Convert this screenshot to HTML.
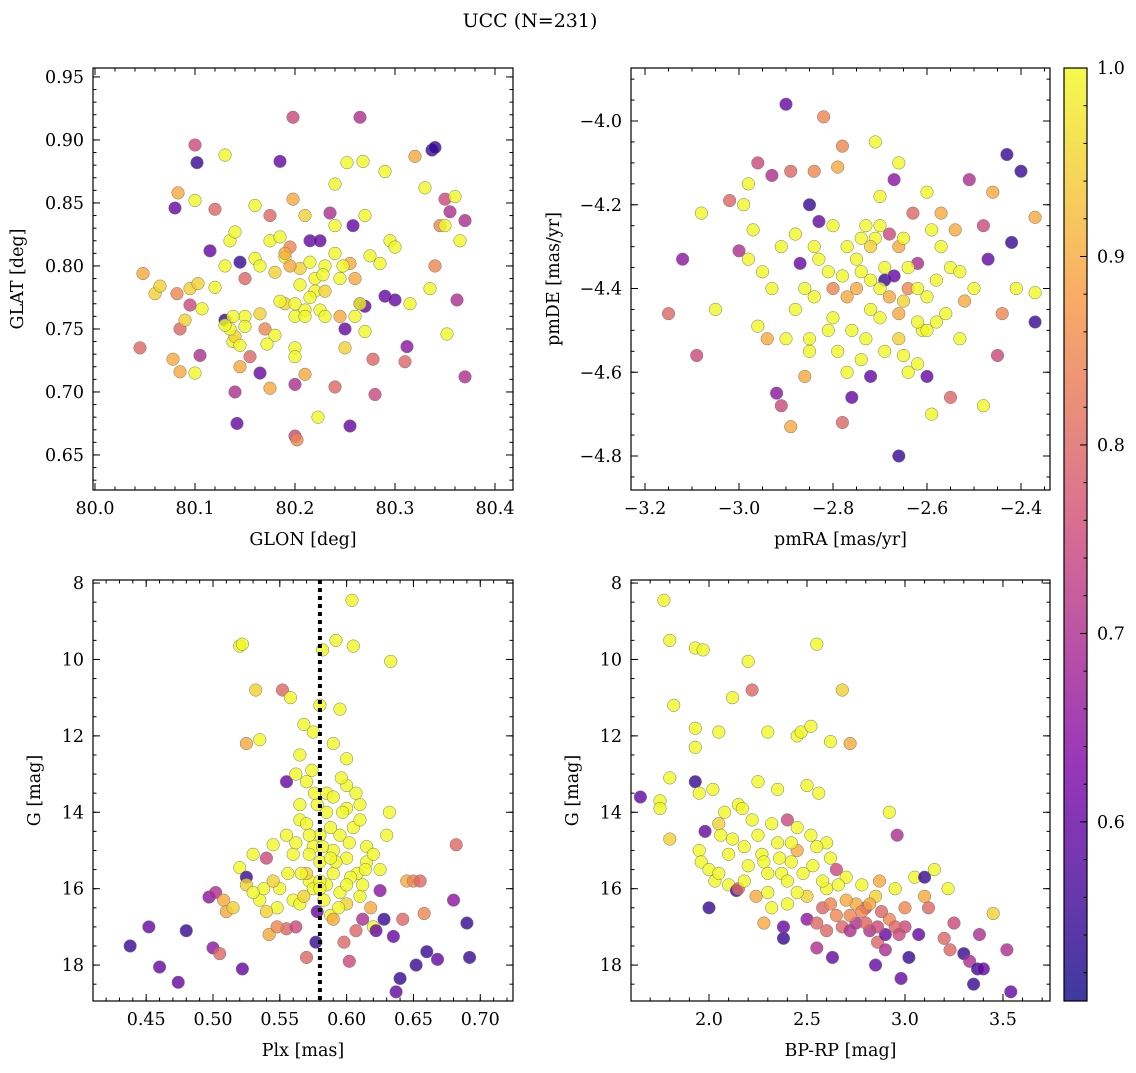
<!DOCTYPE html>
<html><head><meta charset="utf-8"><style>
body{margin:0;background:#fff;}
svg{font-family:"DejaVu Serif","Liberation Serif",serif;}
</style></head><body>
<svg id="fig" width="1136" height="1068" viewBox="0 0 1136 1068" xmlns="http://www.w3.org/2000/svg">
<text x="530" y="27" font-size="19" text-anchor="middle">UCC (N=231)</text>
</svg>
<script>
// Panel 1: GLON, GLAT, probability
const p1 = [[80.045,0.735,0.8],[80.048,0.794,0.9],[80.06,0.778,0.95],[80.065,0.784,0.95],[80.078,0.726,0.9],[80.08,0.846,0.6],[80.082,0.778,0.85],[80.083,0.858,0.9],[80.085,0.75,0.8],[80.085,0.716,0.9],[80.09,0.757,0.95],[80.095,0.782,0.95],[80.095,0.769,0.75],[80.1,0.896,0.75],[80.1,0.852,1.0],[80.102,0.882,0.55],[80.1,0.715,1.0],[80.103,0.786,0.95],[80.105,0.729,0.7],[80.115,0.812,0.6],[80.12,0.845,0.8],[80.13,0.888,1.0],[80.13,0.757,0.55],[80.135,0.82,1.0],[80.14,0.827,1.0],[80.138,0.74,1.0],[80.14,0.7,0.7],[80.142,0.675,0.6],[80.145,0.72,0.9],[80.145,0.803,0.55],[80.15,0.79,0.8],[80.15,0.76,1.0],[80.155,0.728,0.8],[80.16,0.848,1.0],[80.165,0.715,0.6],[80.165,0.762,0.95],[80.17,0.75,0.85],[80.175,0.84,0.8],[80.175,0.703,0.9],[80.18,0.795,0.95],[80.185,0.883,0.6],[80.19,0.807,1.0],[80.19,0.77,0.95],[80.195,0.815,0.85],[80.198,0.918,0.75],[80.198,0.853,0.9],[80.2,0.665,0.75],[80.202,0.662,0.85],[80.2,0.706,0.7],[80.205,0.798,0.95],[80.21,0.765,1.0],[80.21,0.714,0.9],[80.215,0.82,0.6],[80.22,0.78,1.0],[80.223,0.68,1.0],[80.225,0.82,0.6],[80.23,0.78,0.95],[80.235,0.842,0.7],[80.24,0.865,1.0],[80.24,0.704,0.8],[80.245,0.76,0.9],[80.25,0.75,0.6],[80.252,0.882,1.0],[80.255,0.673,0.6],[80.258,0.832,0.6],[80.26,0.79,0.9],[80.265,0.918,0.7],[80.265,0.77,0.6],[80.268,0.883,1.0],[80.27,0.748,1.0],[80.275,0.808,1.0],[80.278,0.726,0.8],[80.28,0.698,0.75],[80.285,0.802,1.0],[80.29,0.776,0.6],[80.29,0.875,1.0],[80.295,0.82,1.0],[80.3,0.773,0.6],[80.31,0.724,0.8],[80.312,0.736,0.65],[80.315,0.77,1.0],[80.32,0.887,0.9],[80.33,0.862,1.0],[80.335,0.782,1.0],[80.337,0.892,0.55],[80.34,0.894,0.55],[80.34,0.8,0.85],[80.345,0.832,0.85],[80.35,0.853,0.75],[80.35,0.832,1.0],[80.352,0.746,1.0],[80.355,0.843,0.7],[80.36,0.855,1.0],[80.362,0.773,0.7],[80.365,0.82,1.0],[80.37,0.836,0.7],[80.37,0.712,0.7],[80.2,0.76,1.0],[80.16,0.806,1.0],[80.25,0.735,0.95],[80.14,0.744,0.95],[80.23,0.8,1.0],[80.22,0.79,1.0],[80.18,0.745,1.0],[80.24,0.81,1.0],[80.27,0.84,1.0],[80.13,0.8,1.0],[80.21,0.84,0.95],[80.26,0.76,1.0],[80.2,0.735,1.0],[80.135,0.75,1.0],[80.145,0.737,1.0],[80.15,0.752,1.0],[80.172,0.738,1.0],[80.2,0.77,1.0],[80.21,0.76,1.0],[80.215,0.775,1.0],[80.225,0.765,1.0],[80.23,0.76,1.0],[80.205,0.785,1.0],[80.195,0.8,0.9],[80.215,0.803,1.0],[80.228,0.793,1.0],[80.175,0.82,1.0],[80.185,0.823,1.0],[80.19,0.81,0.9],[80.245,0.79,1.0],[80.255,0.802,0.9],[80.2,0.728,1.0],[80.138,0.76,1.0],[80.13,0.753,1.0],[80.24,0.832,1.0],[80.27,0.768,0.6],[80.3,0.815,1.0],[80.165,0.8,1.0],[80.107,0.766,1.0],[80.12,0.783,1.0],[80.248,0.8,1.0],[80.265,0.77,1.0],[80.185,0.772,1.0]];
// Panel 2: pmRA, pmDE, probability
const p2 = [[-3.15,-4.46,0.8],[-3.12,-4.33,0.65],[-3.09,-4.56,0.75],[-3.08,-4.22,1.0],[-3.05,-4.45,1.0],[-3.0,-4.31,0.7],[-3.02,-4.19,0.8],[-2.99,-4.2,1.0],[-2.98,-4.15,1.0],[-2.97,-4.26,1.0],[-2.96,-4.1,0.75],[-2.96,-4.49,1.0],[-2.95,-4.36,1.0],[-2.94,-4.52,0.9],[-2.93,-4.13,0.7],[-2.92,-4.65,0.65],[-2.91,-4.68,0.75],[-2.9,-3.96,0.6],[-2.89,-4.73,0.9],[-2.89,-4.12,0.8],[-2.88,-4.27,1.0],[-2.87,-4.34,0.6],[-2.86,-4.61,0.9],[-2.85,-4.2,0.55],[-2.85,-4.55,1.0],[-2.84,-4.12,0.85],[-2.84,-4.42,1.0],[-2.83,-4.24,0.6],[-2.82,-3.99,0.85],[-2.81,-4.36,1.0],[-2.8,-4.47,1.0],[-2.79,-4.11,0.9],[-2.78,-4.06,0.85],[-2.78,-4.72,0.8],[-2.77,-4.3,1.0],[-2.76,-4.66,0.6],[-2.75,-4.4,0.9],[-2.74,-4.57,1.0],[-2.73,-4.25,1.0],[-2.72,-4.61,0.6],[-2.71,-4.05,1.0],[-2.71,-4.28,1.0],[-2.7,-4.18,1.0],[-2.7,-4.47,1.0],[-2.69,-4.38,0.55],[-2.68,-4.27,0.75],[-2.67,-4.14,0.65],[-2.66,-4.1,1.0],[-2.66,-4.8,0.55],[-2.65,-4.56,1.0],[-2.65,-4.43,0.95],[-2.64,-4.6,1.0],[-2.63,-4.22,0.8],[-2.62,-4.34,0.7],[-2.61,-4.5,1.0],[-2.6,-4.17,1.0],[-2.6,-4.61,0.6],[-2.59,-4.7,1.0],[-2.58,-4.38,1.0],[-2.57,-4.22,0.9],[-2.56,-4.46,1.0],[-2.55,-4.66,0.8],[-2.54,-4.26,0.9],[-2.53,-4.52,1.0],[-2.52,-4.43,0.9],[-2.51,-4.14,0.7],[-2.5,-4.4,1.0],[-2.48,-4.25,0.75],[-2.47,-4.33,0.6],[-2.46,-4.17,0.9],[-2.45,-4.56,0.75],[-2.44,-4.46,0.85],[-2.43,-4.08,0.55],[-2.42,-4.29,0.55],[-2.41,-4.4,1.0],[-2.4,-4.12,0.55],[-2.37,-4.48,0.55],[-2.37,-4.41,1.0],[-2.37,-4.23,0.9],[-2.48,-4.68,1.0],[-2.72,-4.45,1.0],[-2.75,-4.33,1.0],[-2.78,-4.37,1.0],[-2.66,-4.52,0.95],[-2.62,-4.48,1.0],[-2.69,-4.35,1.0],[-2.76,-4.5,1.0],[-2.81,-4.5,1.0],[-2.64,-4.35,1.0],[-2.57,-4.3,1.0],[-2.93,-4.4,1.0],[-2.88,-4.45,1.0],[-2.72,-4.3,0.95],[-2.6,-4.42,1.0],[-2.7,-4.4,1.0],[-2.68,-4.42,0.9],[-2.74,-4.36,1.0],[-2.77,-4.42,0.9],[-2.8,-4.4,0.85],[-2.83,-4.33,1.0],[-2.86,-4.4,1.0],[-2.64,-4.4,0.85],[-2.62,-4.4,1.0],[-2.6,-4.5,1.0],[-2.58,-4.48,1.0],[-2.66,-4.46,0.9],[-2.73,-4.52,1.0],[-2.79,-4.55,1.0],[-2.85,-4.52,1.0],[-2.9,-4.52,1.0],[-2.74,-4.28,1.0],[-2.7,-4.25,1.0],[-2.66,-4.3,0.9],[-2.84,-4.3,1.0],[-2.67,-4.37,0.6],[-2.55,-4.35,1.0],[-2.59,-4.26,1.0],[-2.77,-4.6,1.0],[-2.69,-4.55,1.0],[-2.62,-4.58,1.0],[-2.8,-4.25,1.0],[-2.91,-4.3,1.0],[-2.72,-4.38,1.0],[-2.53,-4.36,1.0],[-2.98,-4.33,1.0],[-2.65,-4.28,1.0]];
// Panel 3: Plx, G, probability
const p3 = [[0.438,17.5,0.55],[0.452,17.0,0.6],[0.46,18.05,0.6],[0.474,18.45,0.6],[0.48,17.1,0.55],[0.497,16.22,0.65],[0.5,17.55,0.65],[0.502,16.1,0.7],[0.505,17.7,0.8],[0.508,16.3,0.9],[0.51,16.6,0.9],[0.515,16.5,0.95],[0.52,9.65,1.0],[0.52,15.45,1.0],[0.522,9.6,1.0],[0.522,18.1,0.6],[0.525,12.2,0.9],[0.525,15.7,0.55],[0.53,15.1,1.0],[0.532,10.8,0.95],[0.535,12.1,1.0],[0.538,16.0,1.0],[0.54,15.2,0.75],[0.542,17.2,0.9],[0.545,14.85,1.0],[0.548,16.5,1.0],[0.552,10.8,0.8],[0.555,13.2,0.6],[0.555,17.05,0.8],[0.558,11.0,1.0],[0.56,16.3,1.0],[0.562,13.0,1.0],[0.565,14.2,1.0],[0.568,11.7,1.0],[0.57,17.8,0.8],[0.572,15.8,1.0],[0.575,11.9,1.0],[0.577,17.4,0.55],[0.578,16.6,0.6],[0.58,11.2,1.0],[0.582,9.75,1.0],[0.585,13.5,1.0],[0.588,16.7,1.0],[0.59,15.0,1.0],[0.592,9.5,1.0],[0.595,11.3,1.0],[0.598,17.4,0.8],[0.6,13.9,1.0],[0.602,17.9,0.75],[0.604,8.45,1.0],[0.605,9.65,1.0],[0.608,15.6,1.0],[0.61,16.2,1.0],[0.612,16.8,0.7],[0.615,15.3,1.0],[0.62,17.0,1.0],[0.622,17.1,0.6],[0.625,16.05,0.65],[0.628,16.8,0.55],[0.63,14.6,1.0],[0.632,14.0,1.0],[0.633,10.05,1.0],[0.635,17.25,0.6],[0.637,18.7,0.6],[0.64,18.35,0.55],[0.642,16.8,0.8],[0.645,15.8,0.9],[0.65,15.8,0.85],[0.652,18.0,0.55],[0.655,15.8,0.8],[0.658,16.65,0.85],[0.66,17.65,0.55],[0.668,17.85,0.6],[0.68,16.3,0.65],[0.682,14.85,0.8],[0.69,16.9,0.55],[0.692,17.8,0.55],[0.565,13.8,1],[0.57,14.3,1],[0.575,14.9,1],[0.58,15.3,1],[0.585,14.0,1],[0.59,13.6,1],[0.595,14.6,1],[0.6,15.2,1],[0.605,14.4,1],[0.61,13.8,1],[0.615,14.9,1],[0.56,15.1,1],[0.555,14.6,1],[0.57,13.2,1],[0.6,12.6,1],[0.575,16.0,1],[0.585,15.9,1],[0.595,16.1,1],[0.565,16.4,1],[0.6,16.4,0.95],[0.612,15.9,1],[0.55,16.0,1],[0.545,15.8,0.95],[0.58,14.6,1],[0.59,15.6,1],[0.57,15.6,0.95],[0.6,13.3,1],[0.59,12.2,1],[0.565,12.5,1],[0.61,14.2,1],[0.62,15.1,1],[0.625,15.5,1],[0.535,16.3,1],[0.525,15.9,0.95],[0.54,16.6,0.95],[0.572,14.6,1],[0.578,13.8,1],[0.582,14.9,1],[0.588,14.4,1],[0.592,15.3,1],[0.597,14.0,1],[0.603,15.7,1],[0.607,13.5,1],[0.572,15.1,1],[0.566,15.6,1],[0.583,16.3,1],[0.594,16.5,1],[0.576,13.5,1],[0.562,14.8,1],[0.602,14.8,1],[0.614,15.5,1],[0.568,16.2,0.95],[0.58,15.8,1],[0.6,15.9,1],[0.588,15.2,1],[0.574,12.9,1],[0.596,13.1,1],[0.556,15.6,1],[0.53,16.1,1],[0.618,16.5,0.9],[0.607,17.1,0.8],[0.548,17.0,0.85],[0.58,16.0,1],[0.59,16.8,0.9],[0.562,17.0,0.75]];
// Panel 4: BP-RP, G, probability
const p4 = [[1.65,13.6,0.6],[1.75,13.7,1],[1.75,13.9,1],[1.77,8.45,1],[1.8,9.5,1],[1.8,13.1,1],[1.8,14.7,0.95],[1.82,11.2,1],[1.93,9.7,1],[1.93,11.8,1],[1.93,12.3,1],[1.93,13.2,0.55],[1.95,13.5,1],[1.95,15.0,1],[1.96,15.3,1],[1.97,9.75,1],[1.98,14.5,0.6],[2.0,15.5,1],[2.0,16.5,0.55],[2.02,13.4,1],[2.03,15.8,1],[2.05,11.9,1],[2.05,14.3,0.95],[2.06,14.6,1],[2.08,14.0,1],[2.1,15.9,1],[2.12,11.0,1],[2.14,16.05,0.55],[2.15,16.0,0.8],[2.15,13.8,1],[2.17,13.9,1],[2.2,10.05,1],[2.22,10.8,0.8],[2.22,14.2,1],[2.24,16.2,0.9],[2.25,13.2,1],[2.27,15.1,1],[2.28,16.9,0.9],[2.3,11.9,1],[2.3,15.6,1],[2.32,14.3,1],[2.35,13.4,1],[2.37,15.6,1],[2.38,17.0,0.6],[2.38,17.3,0.55],[2.4,14.2,0.75],[2.42,15.3,1],[2.45,12.0,1],[2.45,15.0,0.9],[2.47,11.9,1],[2.5,13.3,1],[2.5,16.8,0.65],[2.52,11.75,1],[2.53,15.4,1],[2.55,9.6,1],[2.55,17.55,0.7],[2.56,13.5,1],[2.58,16.5,0.8],[2.6,14.8,1],[2.62,12.15,1],[2.63,17.8,0.6],[2.65,15.5,0.75],[2.68,10.8,0.95],[2.72,12.2,0.9],[2.75,16.9,0.7],[2.78,15.9,1],[2.8,16.5,0.75],[2.82,17.1,0.7],[2.85,18.0,0.6],[2.86,17.4,0.8],[2.87,15.8,0.9],[2.9,17.2,0.6],[2.92,14.0,1],[2.95,16.0,1],[2.96,14.6,0.7],[2.98,18.35,0.6],[3.0,16.5,0.85],[3.02,17.8,0.55],[3.05,15.7,1],[3.07,17.2,0.6],[3.1,15.7,0.55],[3.12,16.5,0.8],[3.15,15.5,1],[3.2,17.3,0.8],[3.22,16.0,1],[3.23,17.6,0.8],[3.25,16.9,0.75],[3.3,17.7,0.55],[3.33,17.9,0.7],[3.35,18.5,0.55],[3.37,18.1,0.55],[3.4,18.1,0.6],[3.45,16.65,0.95],[3.52,17.6,0.7],[3.54,18.7,0.6],[3.38,17.2,0.7],[2.35,14.8,1],[2.45,14.4,1],[2.55,14.9,1],[2.62,15.2,1],[2.7,15.7,1],[2.4,15.8,1],[2.5,16.2,0.95],[2.6,16.0,1],[2.75,16.4,0.9],[2.85,16.2,0.95],[2.92,16.8,0.85],[2.2,15.4,1],[2.3,16.1,1],[2.65,16.7,0.85],[3.0,17.0,0.75],[2.55,16.9,0.8],[2.72,16.7,0.85],[2.12,14.7,1],[2.18,14.9,1],[2.25,14.6,1],[2.28,15.3,1],[2.36,15.2,1],[2.42,14.8,1],[2.48,15.6,1],[2.52,14.6,1],[2.58,15.8,1],[2.66,15.9,1],[2.7,16.3,0.9],[2.78,16.6,0.85],[2.82,16.4,0.9],[2.88,16.6,0.8],[2.95,17.0,0.8],[2.62,16.4,0.85],[2.68,17.0,0.8],[2.72,17.1,0.7],[2.8,16.9,0.8],[2.9,17.6,0.7],[2.97,17.2,0.75],[2.86,17.0,0.75],[2.4,16.4,1],[2.32,16.5,1],[2.6,17.1,0.8],[2.45,16.1,1],[2.05,15.6,1],[2.1,15.1,1],[2.18,15.8,1],[3.1,16.2,0.9]];
const cbTicks = [0.6,0.7,0.8,0.9,1.0];
const plxLine = 0.58;

const NS="http://www.w3.org/2000/svg";
const svg=document.getElementById('fig');
function el(tag,attrs,parent){const e=document.createElementNS(NS,tag);for(const k in attrs)e.setAttribute(k,attrs[k]);(parent||svg).appendChild(e);return e;}
const stops=[[0,[13,8,135]],[0.25,[126,3,168]],[0.5,[204,71,120]],[0.75,[248,149,64]],[1,[240,249,33]]];
function plasma(t){t=Math.max(0,Math.min(1,t));for(let i=1;i<stops.length;i++){if(t<=stops[i][0]){const a=stops[i-1],b=stops[i];const f=(t-a[0])/(b[0]-a[0]);return 'rgb('+a[1].map((v,j)=>Math.round(v+(b[1][j]-v)*f)).join(',')+')';}}return 'rgb(240,249,33)';}
const VMIN=0.505,VMAX=1.0;
function cmap(v){return plasma((v-VMIN)/(VMAX-VMIN));}
const FS=17.5;

function panel(cfg){
  const {x0,x1,y0,y1,xmin,xmax,ymin,ymax,inv}=cfg;
  const sx=v=>x0+(v-xmin)/(xmax-xmin)*(x1-x0);
  const sy=v=>inv? y0+(v-ymin)/(ymax-ymin)*(y1-y0) : y1-(v-ymin)/(ymax-ymin)*(y1-y0);
  const g=el('g',{});
  
  
  cfg.data.forEach(d=>{
    const c=el('circle',{cx:sx(d[0]),cy:sy(d[1]),r:6.3,fill:cmap(d[2]),'fill-opacity':0.8,stroke:'#777','stroke-width':0.5},g);
    
    
  });
  if(cfg.vline!==undefined){
    const l=el('line',{x1:sx(cfg.vline),x2:sx(cfg.vline),y1:y0,y2:y1,stroke:'#000','stroke-width':4,'stroke-dasharray':'4,4'},g);
    
    
  }
  const fr=el('rect',{x:x0,y:y0,width:x1-x0,height:y1-y0,fill:'none',stroke:'#000','stroke-width':1.2},g);
  
  
  const eps=1e-9;
  for(let v=Math.ceil(xmin/cfg.xmi-eps)*cfg.xmi;v<=xmax+eps;v+=cfg.xmi){const X=sx(v);el('line',{x1:X,x2:X,y1:y1,y2:y1-3.5,stroke:'#000'},g);el('line',{x1:X,x2:X,y1:y0,y2:y0+3.5,stroke:'#000'},g);}
  for(let v=Math.ceil(xmin/cfg.xma-eps)*cfg.xma;v<=xmax+eps;v+=cfg.xma){const X=sx(v);el('line',{x1:X,x2:X,y1:y1,y2:y1-7,stroke:'#000'},g);el('line',{x1:X,x2:X,y1:y0,y2:y0+7,stroke:'#000'},g);
    const t=el('text',{x:X,y:y1+24,'font-size':FS,'text-anchor':'middle'},g);t.textContent=(Math.abs(v)<eps?0:v).toFixed(cfg.xd).replace('-','\u2212');
    }
  for(let v=Math.ceil(ymin/cfg.ymi-eps)*cfg.ymi;v<=ymax+eps;v+=cfg.ymi){const Y=sy(v);el('line',{x1:x0,x2:x0+3.5,y1:Y,y2:Y,stroke:'#000'},g);el('line',{x1:x1,x2:x1-3.5,y1:Y,y2:Y,stroke:'#000'},g);}
  for(let v=Math.ceil(ymin/cfg.yma-eps)*cfg.yma;v<=ymax+eps;v+=cfg.yma){const Y=sy(v);el('line',{x1:x0,x2:x0+7,y1:Y,y2:Y,stroke:'#000'},g);el('line',{x1:x1,x2:x1-7,y1:Y,y2:Y,stroke:'#000'},g);
    const t=el('text',{x:x0-9,y:Y+6,'font-size':FS,'text-anchor':'end'},g);t.textContent=v.toFixed(cfg.yd).replace('-','\u2212');
    }
  const xl=el('text',{x:(x0+x1)/2,y:y1+55,'font-size':FS,'text-anchor':'middle'},g);xl.textContent=cfg.xlab;
  
  const yx=cfg.ylx, yy=(y0+y1)/2;
  const yl=el('text',{x:yx,y:yy,'font-size':FS,'text-anchor':'middle',transform:'rotate(-90 '+yx+' '+yy+')'},g);yl.textContent=cfg.ylab;
  
}
panel({name:'glon-glat-panel',data:p1,x0:93,x1:513,y0:68,y1:490,xmin:79.998,xmax:80.418,ymin:0.6222,ymax:0.9571,xma:0.1,xmi:0.02,yma:0.05,ymi:0.01,xd:1,yd:2,xlab:'GLON [deg]',ylab:'GLAT [deg]',ylx:23});
panel({name:'proper-motion-panel',data:p2,x0:631,x1:1050,y0:68,y1:490,xmin:-3.2298,xmax:-2.3383,ymin:-4.8812,ymax:-3.8734,xma:0.2,xmi:0.05,yma:0.2,ymi:0.05,xd:1,yd:1,xlab:'pmRA [mas/yr]',ylab:'pmDE [mas/yr]',ylx:559});
panel({name:'plx-g-panel',data:p3,x0:93,x1:513,y0:580,y1:1001,xmin:0.4102,xmax:0.7245,ymin:7.92,ymax:18.94,inv:true,xma:0.05,xmi:0.01,yma:2,ymi:0.5,xd:2,yd:0,xlab:'Plx [mas]',ylab:'G [mag]',ylx:40,vline:plxLine});
panel({name:'color-magnitude-panel',data:p4,x0:631,x1:1050,y0:580,y1:1001,xmin:1.602,xmax:3.740,ymin:7.92,ymax:18.94,inv:true,xma:0.5,xmi:0.1,yma:2,ymi:0.5,xd:1,yd:0,xlab:'BP-RP [mag]',ylab:'G [mag]',ylx:578});

(function(){
  const cx0=1064,cx1=1087,cy0=68,cy1=1001;
  const defs=el('defs',{});
  const lg=el('linearGradient',{id:'cbg',x1:0,y1:1,x2:0,y2:0},defs);
  for(let i=0;i<=20;i++){el('stop',{offset:i/20,'stop-color':plasma(i/20),'stop-opacity':0.8},lg);}
  const g=el('g',{});
  
  
  el('rect',{x:cx0,y:cy0,width:cx1-cx0,height:cy1-cy0,fill:'url(#cbg)',stroke:'#000','stroke-width':1.2},g);
  const sy=v=>cy1-(v-VMIN)/(VMAX-VMIN)*(cy1-cy0);
  for(let v=0.52;v<=1.0001;v+=0.02){const Y=sy(v);el('line',{x1:cx1,x2:cx1-3.5,y1:Y,y2:Y,stroke:'#000'},g);}
  cbTicks.forEach(v=>{const Y=sy(v);el('line',{x1:cx1,x2:cx1-7,y1:Y,y2:Y,stroke:'#000'},g);
    const t=el('text',{x:cx1+10,y:Y+6,'font-size':FS},g);t.textContent=v.toFixed(1);
    });
})();
</script>
</body></html>
